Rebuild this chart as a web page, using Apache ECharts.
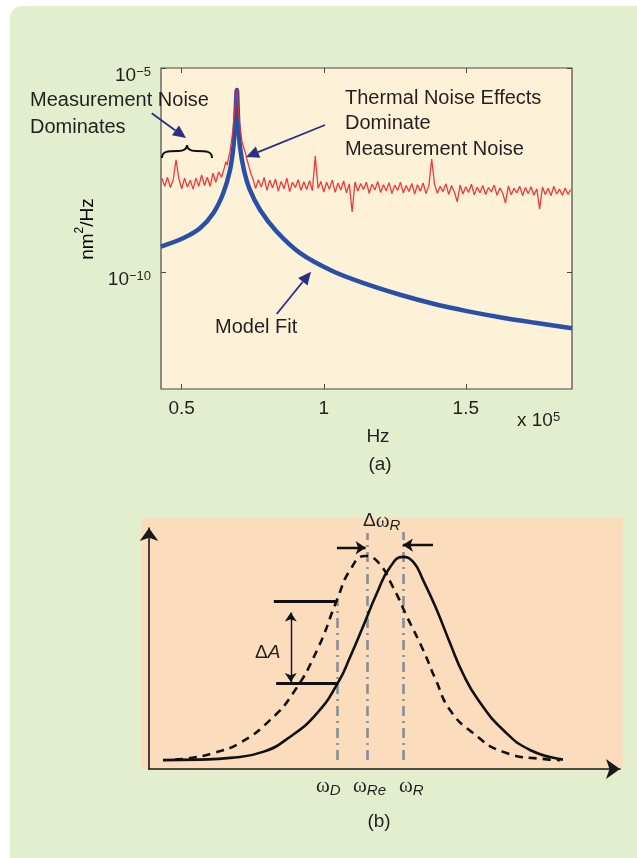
<!DOCTYPE html>
<html>
<head>
<meta charset="utf-8">
<script src="https://cdn.jsdelivr.net/npm/echarts@6/dist/echarts.min.js"></script>
<style>
  html, body { margin: 0; background: #fff; }
  #chart { width: 637px; height: 858px; }
</style>
</head>
<body>
<div id="chart"></div>
<script>
  // (a) power spectral density, x in 1e5 Hz, y as log10(nm^2/Hz)
  var xTicks = [0.5, 1, 1.5]
  var yTicks = [-5, -10]

  var fitFreq = [0.427, 0.506, 0.564, 0.611, 0.646, 0.670, 0.682, 0.688, 0.694, 0.699, 0.705, 0.719,
    0.740, 0.776, 0.834, 0.917, 1.034, 1.151, 1.269, 1.386, 1.504, 1.620, 1.738, 1.874]
  var fitLog = [-9.38, -9.17, -8.93, -8.56, -8.07, -7.50, -6.93, -6.36, -5.54, -6.36, -6.93, -7.50,
    -7.99, -8.48, -9.01, -9.54, -9.99, -10.30, -10.56, -10.78, -10.96, -11.11, -11.24, -11.38]

  // measured spectrum, sampled every 0.01 (x 1e5 Hz) away from the peak
  var noiseStep = 0.01
  var noiseLeftStart = 0.43
  var noiseLeft = [-7.70, -7.90, -7.68, -7.93, -7.74, -7.25, -7.72, -7.96, -7.70, -7.92, -7.75,
    -7.97, -7.70, -7.90, -7.62, -7.88, -7.68, -7.90, -7.58, -7.80, -7.55, -7.68]
  var noisePeakFreq = [0.65, 0.655, 0.66, 0.665, 0.67, 0.675, 0.68, 0.685, 0.69, 0.694,
    0.698, 0.702, 0.707, 0.712, 0.718, 0.724, 0.73, 0.735, 0.74, 0.745]
  var noisePeak = [-7.45, -7.30, -7.38, -7.20, -7.05, -6.80, -6.55, -6.15, -5.75, -5.52,
    -5.85, -6.25, -6.55, -6.80, -6.95, -7.08, -7.25, -7.38, -7.50, -7.62]
  var noiseRightStart = 0.75
  var noiseRight = [
    -7.70, -7.95, -7.74, -7.92, -7.68, -8.00, -7.75, -7.94, -7.72, -8.02,
    -7.78, -7.96, -7.70, -8.03, -7.80, -7.93, -7.74, -8.00, -7.79, -7.98,
    -7.76, -8.01, -7.16, -7.95, -7.78, -8.04, -7.80, -7.97, -7.75, -8.05,
    -7.82, -7.99, -7.77, -8.06, -7.84, -8.53, -7.79, -8.02, -7.83, -7.98,
    -7.80, -8.07, -7.85, -7.99, -7.78, -8.05, -7.86, -8.01, -7.81, -8.08,
    -7.87, -8.00, -7.80, -8.06, -7.88, -8.03, -7.83, -8.09, -7.86, -8.02,
    -7.82, -8.08, -7.89, -7.23, -7.85, -8.07, -7.90, -8.03, -7.84, -8.10,
    -7.88, -8.04, -8.28, -7.87, -8.09, -7.91, -8.05, -7.85, -8.11, -7.92,
    -8.06, -7.88, -8.10, -7.93, -8.04, -7.87, -8.12, -7.94, -8.07, -8.31,
    -7.89, -8.11, -7.95, -8.06, -7.90, -8.13, -7.93, -8.08, -7.91, -8.12,
    -7.96, -8.46, -7.92, -8.10, -7.95, -8.13, -7.90, -8.09, -7.97, -8.12,
    -7.94, -8.10, -7.98]

  // (b) resonance sketch, arbitrary units 0..100
  var solidX = [2.97, 10.8, 17.2, 24.2, 29.9, 35.7, 40.1, 42.7, 45.4, 48.4, 51.2, 53.9, 56.1,
    58.2, 61.1, 63.9, 66.7, 69.9, 75.2, 80.9, 87.9]
  var solidY = [3.7, 3.9, 4.6, 7.1, 13.3, 23.2, 35.7, 46.5, 58.9, 73.0, 83.8, 88.0, 85.9,
    78.4, 66.0, 52.3, 39.4, 28.6, 16.2, 7.9, 3.9]
  var dashX = [5.5, 8.3, 13.6, 19.3, 25.7, 30.6, 35.7, 39.9, 42.7, 45.9, 48.6, 51.8, 54.8,
    58.2, 60.9, 63.9, 68.8, 75.2, 84.5, 87.3]
  var dashY = [3.9, 4.4, 6.6, 10.8, 20.3, 31.5, 49.4, 70.1, 82.6, 88.4, 85.9, 75.5, 63.1,
    49.4, 36.9, 24.5, 14.9, 7.1, 4.0, 3.7]
  var markFreq = [40.0, 46.3, 53.9]   // omega_D, omega_Re, omega_R
  var markTop = [70.1, 97.9, 98.3]
  var markBase = 3.7
  var levelY = [69.7, 35.7]
  var levelFrom = [26.5, 27.0]
  var levelTo = [39.7, 40.1]
  var deltaAX = 30.1
  var shiftY = [91.8, 92.9]
  var shiftFrom = [39.9, 60.3]
  var shiftTo = [46.0, 53.9]

  var font = '"Liberation Sans", Arial, sans-serif'
  var serif = '"Liberation Serif", "DejaVu Serif", serif'
  var ink = '#231f20'
  var navy = '#2b2e83'

  var redData = []
  noiseLeft.forEach(function (v, i) {
    redData.push([+(noiseLeftStart + i * noiseStep).toFixed(3), v])
  })
  noisePeakFreq.forEach(function (f, i) { redData.push([f, noisePeak[i]]) })
  noiseRight.forEach(function (v, i) {
    redData.push([+(noiseRightStart + i * noiseStep).toFixed(3), v])
  })
  var fitData = fitFreq.map(function (f, i) { return [f, fitLog[i]] })
  var solidData = solidX.map(function (x, i) { return [x, solidY[i]] })
  var dashData = dashX.map(function (x, i) { return [x, dashY[i]] })

  function arrow(x1, y1, x2, y2) {
    var a = Math.atan2(y2 - y1, x2 - x1)
    var L = 13, W = 6
    var bx = x2 - L * Math.cos(a), by = y2 - L * Math.sin(a)
    return [
      { type: 'line', z: 20, shape: { x1: x1, y1: y1, x2: bx, y2: by }, style: { stroke: navy, lineWidth: 1.8 } },
      { type: 'polygon', z: 20, shape: { points: [[x2, y2],
        [bx - W * Math.sin(a), by + W * Math.cos(a)], [bx + W * Math.sin(a), by - W * Math.cos(a)]] },
        style: { fill: navy } }
    ]
  }

  function curve(x1, y1, c1x, c1y, c2x, c2y, x2, y2) {
    return { type: 'bezierCurve', z: 20,
      shape: { x1: x1, y1: y1, cpx1: c1x, cpy1: c1y, cpx2: c2x, cpy2: c2y, x2: x2, y2: y2 },
      style: { stroke: '#111', lineWidth: 2, fill: null } }
  }

  function label(text, x, y, size, align, rich) {
    var st = {
      text: text, x: x, y: y, fill: ink, font: size + 'px ' + font,
      textAlign: align || 'left', textVerticalAlign: 'middle',
      align: align || 'left', verticalAlign: 'middle'
    }
    if (rich) st.rich = rich
    return { type: 'text', z: 20, style: st }
  }

  // base number sits 8px below the block centre, exponent a little above it
  var supRich = {
    b: { fontSize: 19, fontFamily: font, color: ink, lineHeight: 19, padding: [16, 0, 0, 0] },
    s: { fontSize: 13, fontFamily: font, color: ink, lineHeight: 13, padding: [8, 0, 0, 0] }
  }
  var omegaRich = {
    w: { fontSize: 21, fontFamily: serif, color: ink, lineHeight: 21 },
    s: { fontSize: 15, fontFamily: font, fontStyle: 'italic', color: ink, lineHeight: 15, padding: [9, 0, 0, 0] },
    d: { fontSize: 19, fontFamily: font, color: ink, lineHeight: 19 },
    a: { fontSize: 19, fontFamily: font, fontStyle: 'italic', color: ink, lineHeight: 19 }
  }

  var graphics = [
    { type: 'rect', z: -10, shape: { x: 10, y: 6, width: 700, height: 900, r: 12 }, style: { fill: '#e2eecd' } },
    { type: 'rect', z: -9, shape: { x: 141.5, y: 518, width: 481, height: 251 }, style: { fill: '#fbdcbd' } },
    // brace over the low-frequency noise floor
    curve(162, 158, 162, 151, 168, 151, 178, 151),
    curve(178, 151, 184, 151, 187, 149, 187, 145),
    curve(187, 145, 187, 149, 190, 151, 196, 151),
    curve(196, 151, 206, 151, 212, 151, 212, 158),
    label('Measurement Noise', 30, 100, 20),
    label('Dominates', 30, 127, 20),
    label('Thermal Noise Effects', 345, 98, 20),
    label('Dominate', 345, 123, 20),
    label('Measurement Noise', 345, 149, 20),
    label('Model Fit', 215, 327, 20),
    label('{b|x 10}{s|5}', 517, 413, 19, 'left', supRich),
    label('Hz', 378, 437, 19, 'center'),
    label('(a)', 380, 465, 19, 'center'),
    label('(b)', 379, 822, 19, 'center'),
    label('{d|Δ}{w|ω}{s|R}', 363, 521, 19, 'left', omegaRich),
    label('{d|Δ}{a|A}', 255, 653, 19, 'left', omegaRich),
    label('{w|ω}{s|D}', 316, 786, 19, 'left', omegaRich),
    label('{w|ω}{s|Re}', 353, 786, 19, 'left', omegaRich),
    label('{w|ω}{s|R}', 399, 786, 19, 'left', omegaRich),
    { type: 'text', z: 20, x: 85, y: 229, rotation: Math.PI / 2,
      style: { text: '{b|nm}{s|2}{b|/Hz}', x: 0, y: 0, textAlign: 'center', textVerticalAlign: 'middle',
        align: 'center', verticalAlign: 'middle', rich: {
          b: { fontSize: 19, fontFamily: font, color: ink, lineHeight: 19, padding: [6, 0, 0, 0] },
          s: { fontSize: 12, fontFamily: font, color: ink, lineHeight: 12, padding: [0, 0, 10, 0] }
        } } }
  ]
  graphics = graphics.concat(arrow(151.7, 113.3, 186, 138), arrow(325, 125, 246, 157), arrow(276.7, 314, 311, 271.7))

  var hidden = { show: false }
  var chart = echarts.init(document.getElementById('chart'))
  chart.setOption({
    backgroundColor: '#ffffff',
    animation: false,
    textStyle: { fontFamily: font },
    graphic: { elements: graphics },
    grid: [
      { left: 161, top: 68, width: 411, height: 321, show: true, backgroundColor: '#fdf2d8',
        borderColor: '#4a4a4a', borderWidth: 1.2 },
      { left: 149, top: 528, width: 471, height: 241 }
    ],
    xAxis: [
      { type: 'value', gridIndex: 0, min: 0.427, max: 1.874, axisLine: hidden, splitLine: hidden,
        axisTick: { inside: true, length: 5, customValues: xTicks, lineStyle: { color: '#4a4a4a' } },
        axisLabel: { customValues: xTicks, margin: 10, color: ink, fontSize: 19, fontFamily: font,
          formatter: function (v) { return String(v) } } },
      { type: 'value', gridIndex: 0, position: 'top', min: 0.427, max: 1.874, axisLine: hidden,
        splitLine: hidden, axisLabel: hidden,
        axisTick: { inside: true, length: 5, customValues: xTicks, lineStyle: { color: '#4a4a4a' } } },
      { type: 'value', gridIndex: 1, min: 0, max: 100, splitLine: hidden, axisTick: hidden, axisLabel: hidden,
        axisLine: { show: true, symbol: ['none', 'arrow'], symbolSize: [15, 14],
          lineStyle: { color: '#1a1a1a', width: 1.6 } } }
    ],
    yAxis: [
      { type: 'value', gridIndex: 0, min: -12.87, max: -5, axisLine: hidden, splitLine: hidden,
        axisTick: { inside: true, length: 5, customValues: yTicks, lineStyle: { color: '#4a4a4a' } },
        axisLabel: { customValues: yTicks, margin: 10, formatter: function (v) {
          return '{b|10}{s|−' + Math.abs(v) + '}'
        }, rich: supRich } },
      { type: 'value', gridIndex: 0, position: 'right', min: -12.87, max: -5, axisLine: hidden,
        splitLine: hidden, axisLabel: hidden,
        axisTick: { inside: true, length: 5, customValues: yTicks, lineStyle: { color: '#4a4a4a' } } },
      { type: 'value', gridIndex: 1, min: 0, max: 100, splitLine: hidden, axisTick: hidden, axisLabel: hidden,
        axisLine: { show: true, symbol: ['none', 'arrow'], symbolSize: [14, 13],
          lineStyle: { color: '#1a1a1a', width: 1.6 } } }
    ],
    series: [
      { name: 'Model Fit', type: 'line', xAxisIndex: 0, yAxisIndex: 0, data: fitData, showSymbol: false,
        smooth: 0.3, z: 3, lineStyle: { color: '#2a4fa6', width: 4.5 } },
      { name: 'Measured', type: 'line', xAxisIndex: 0, yAxisIndex: 0, data: redData, showSymbol: false,
        z: 4, lineStyle: { color: '#ef2329', width: 1.3, opacity: 0.9 } },
      { name: 'shifted', type: 'line', xAxisIndex: 2, yAxisIndex: 2, data: dashData, showSymbol: false,
        smooth: true, z: 5, lineStyle: { color: '#111', width: 2.6, type: [8, 6] } },
      { name: 'reference', type: 'line', xAxisIndex: 2, yAxisIndex: 2, data: solidData, showSymbol: false,
        smooth: true, z: 5, lineStyle: { color: '#111', width: 2.6 } },
      { name: 'markers', type: 'lines', coordinateSystem: 'cartesian2d', xAxisIndex: 2, yAxisIndex: 2, z: 4,
        lineStyle: { color: '#8a8f95', width: 2.6, opacity: 1, type: [10, 5, 2, 5] },
        data: markFreq.map(function (f, i) { return { coords: [[f, markBase], [f, markTop[i]]] } }) },
      { name: 'levels', type: 'lines', coordinateSystem: 'cartesian2d', xAxisIndex: 2, yAxisIndex: 2, z: 6,
        lineStyle: { color: '#111', width: 3.2, opacity: 1 },
        data: levelY.map(function (y, i) { return { coords: [[levelFrom[i], y], [levelTo[i], y]] } }) },
      { name: 'deltaA', type: 'lines', coordinateSystem: 'cartesian2d', xAxisIndex: 2, yAxisIndex: 2, z: 6,
        symbol: ['arrow', 'arrow'], symbolSize: 9, lineStyle: { color: '#111', width: 1.4, opacity: 1 },
        data: [{ coords: [[deltaAX, levelY[1] + 0.4], [deltaAX, levelY[0] - 4.8]] }] },
      { name: 'shift', type: 'lines', coordinateSystem: 'cartesian2d', xAxisIndex: 2, yAxisIndex: 2, z: 6,
        symbol: ['none', 'arrow'], symbolSize: 10, lineStyle: { color: '#111', width: 2.4, opacity: 1 },
        data: shiftY.map(function (y, i) { return { coords: [[shiftFrom[i], y], [shiftTo[i], y]] } }) }
    ]
  })
</script>
</body>
</html>
